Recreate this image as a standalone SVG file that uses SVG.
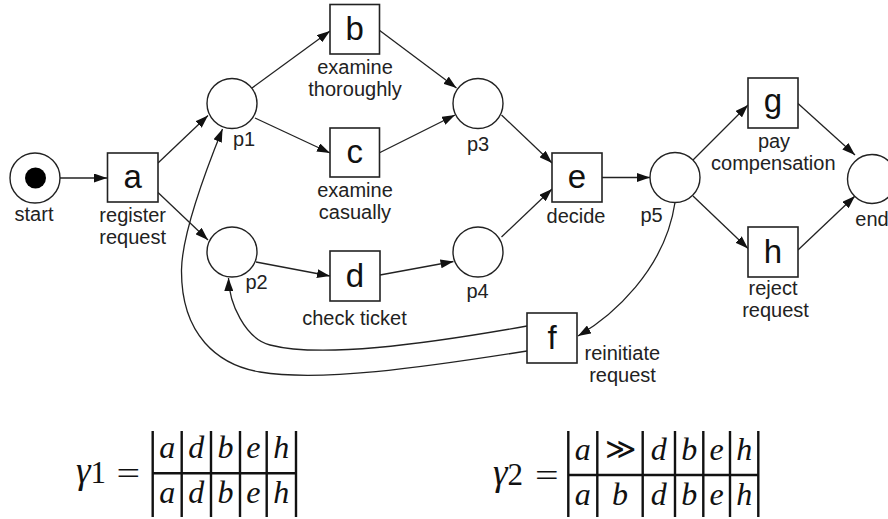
<svg xmlns="http://www.w3.org/2000/svg" width="888" height="519" viewBox="0 0 888 519">
<style>
.pl{fill:#fff;stroke:#222;stroke-width:1.4}
.tr{fill:#fff;stroke:#222;stroke-width:1.6}
.lab{font-family:"Liberation Sans",Arial,sans-serif;font-size:20px;fill:#222;text-anchor:middle}
.big{font-family:"Liberation Sans",Arial,sans-serif;font-size:33px;fill:#111;text-anchor:middle}
.arc{fill:none;stroke:#222;stroke-width:1.3;marker-end:url(#ah)}
.m{font-family:"Liberation Serif","Times New Roman",serif;font-style:italic;font-size:32px;fill:#111;text-anchor:middle}
.mr{font-family:"Liberation Serif","Times New Roman",serif;font-size:31px;fill:#111}
.tb{stroke:#111;stroke-width:2.4;fill:none}
</style>
<defs>
<marker id="ah" markerUnits="userSpaceOnUse" markerWidth="13" markerHeight="9" refX="13" refY="4.5" orient="auto">
<path d="M0,0 L13,4.5 L0,9 z" fill="#111"/>
</marker>
</defs>
<rect width="888" height="519" fill="#fff"/>

<g id="connectors">
<path class="arc" d="M60,178 L107,178"/>
<path class="arc" d="M158,163 L208,115.5"/>
<path class="arc" d="M158,192.5 L208,240"/>
<path class="arc" d="M252,88 L330,31"/>
<path class="arc" d="M255,118 L330,153"/>
<path class="arc" d="M379,30 L456.5,88"/>
<path class="arc" d="M379,153 L455,115"/>
<path class="arc" d="M501.5,115 L552,163"/>
<path class="arc" d="M501.5,237 L552,189"/>
<path class="arc" d="M256,262 L330,276"/>
<path class="arc" d="M380,275 L453.5,261.5"/>
<path class="arc" d="M602,177.5 L650,177.5"/>
<path class="arc" d="M693,160 L748,105"/>
<path class="arc" d="M693,196 L748,248.5"/>
<path class="arc" d="M798,103.5 L855,155"/>
<path class="arc" d="M798,250 L855,196"/>
<path class="arc" d="M675,202.5 C665,270 612,316 578,336"/>
<path class="arc" d="M527,326 C420,345 320,358 270,345 C245,338.5 229,303 228.5,278"/>
<path class="arc" d="M527,351 C420,368 320,382 260,372 C218,365 181,335 181.5,270 C182,230 212,155 222.5,129"/>
</g>

<g id="start"><circle class="pl" cx="35" cy="178" r="25"/><circle cx="35.5" cy="178" r="10.5" fill="#000"/><text class="lab" x="34" y="221">start</text></g>
<g id="a"><rect class="tr" x="107.5" y="153" width="50.5" height="49"/><text class="big" x="132.8" y="188">a</text><text class="lab" x="132.7" y="221.5">register</text><text class="lab" x="132.7" y="243.5">request</text></g>
<g id="p1"><circle class="pl" cx="232" cy="103.5" r="25"/><text class="lab" x="244" y="146">p1</text></g>
<g id="p2"><circle class="pl" cx="232" cy="252" r="25"/><text class="lab" x="256.5" y="288.5">p2</text></g>
<g id="b"><rect class="tr" x="330" y="4.5" width="49.5" height="49.5"/><text class="big" x="354.8" y="40">b</text><text class="lab" x="355" y="74">examine</text><text class="lab" x="355" y="96">thoroughly</text></g>
<g id="c"><rect class="tr" x="330" y="128" width="49.5" height="49"/><text class="big" x="354.8" y="163">c</text><text class="lab" x="355" y="197">examine</text><text class="lab" x="355" y="219">casually</text></g>
<g id="d"><rect class="tr" x="330" y="251" width="50" height="50"/><text class="big" x="355" y="287">d</text><text class="lab" x="354.5" y="325">check ticket</text></g>
<g id="p3"><circle class="pl" cx="478" cy="103.5" r="25"/><text class="lab" x="478" y="151">p3</text></g>
<g id="p4"><circle class="pl" cx="478" cy="252" r="25"/><text class="lab" x="477.5" y="297.5">p4</text></g>
<g id="e"><rect class="tr" x="552" y="153" width="50" height="49"/><text class="big" x="577" y="188">e</text><text class="lab" x="576" y="222.5">decide</text></g>
<g id="p5"><circle class="pl" cx="675" cy="177.5" r="25"/><text class="lab" x="651.5" y="221.5">p5</text></g>
<g id="g"><rect class="tr" x="748" y="78" width="50" height="50"/><text class="big" x="773" y="112">g</text><text class="lab" x="774" y="148">pay</text><text class="lab" x="773.3" y="170">compensation</text></g>
<g id="h"><rect class="tr" x="748" y="227" width="50" height="50"/><text class="big" x="773" y="263">h</text><text class="lab" x="773" y="295">reject</text><text class="lab" x="775.5" y="317">request</text></g>
<g id="end"><circle class="pl" cx="872" cy="179" r="24.5"/><text class="lab" x="872" y="226">end</text></g>
<g id="f"><rect class="tr" x="527" y="313" width="50" height="50"/><text class="big" x="552" y="349">f</text><text class="lab" x="622.3" y="360">reinitiate</text><text class="lab" x="622.5" y="382">request</text></g>

<g id="gamma1">
<text class="mr" x="76" y="483"><tspan font-style="italic" font-size="37">γ</tspan><tspan>1</tspan></text>
<text class="mr" x="128.3" y="484" font-size="40" text-anchor="middle" transform="translate(128.3,0) scale(1.35,1) translate(-128.3,0)">=</text>
<path class="tb" d="M152.7,431 V517 M181.7,431 V517 M211,431 V517 M240,431 V517 M266.7,431 V517 M296,431 V517 M152.7,473.3 H296"/>
<text class="m" x="167.2" y="458">a</text><text class="m" x="196.3" y="458">d</text><text class="m" x="225.5" y="458">b</text><text class="m" x="253.3" y="458">e</text><text class="m" x="281.3" y="458">h</text>
<text class="m" x="167.2" y="503">a</text><text class="m" x="196.3" y="503">d</text><text class="m" x="225.5" y="503">b</text><text class="m" x="253.3" y="503">e</text><text class="m" x="281.3" y="503">h</text>
</g>
<g id="gamma2">
<text class="mr" x="493" y="485"><tspan font-style="italic" font-size="37">γ</tspan><tspan>2</tspan></text>
<text class="mr" x="546.7" y="486" font-size="40" text-anchor="middle" transform="translate(546.7,0) scale(1.35,1) translate(-546.7,0)">=</text>
<path class="tb" d="M568.3,431 V517 M597.3,431 V517 M642.7,431 V517 M675,431 V517 M703.3,431 V517 M730,431 V517 M758.3,431 V517 M568.3,475 H758.3"/>
<text class="m" x="582.8" y="460">a</text><text x="620" y="459" font-family="'DejaVu Sans',sans-serif" font-weight="200" font-size="30" fill="#111" text-anchor="middle">≫</text><text class="m" x="658.8" y="460">d</text><text class="m" x="689.2" y="460">b</text><text class="m" x="716.7" y="460">e</text><text class="m" x="744.2" y="460">h</text>
<text class="m" x="582.8" y="505">a</text><text class="m" x="620" y="505">b</text><text class="m" x="658.8" y="505">d</text><text class="m" x="689.2" y="505">b</text><text class="m" x="716.7" y="505">e</text><text class="m" x="744.2" y="505">h</text>
</g>
</svg>
